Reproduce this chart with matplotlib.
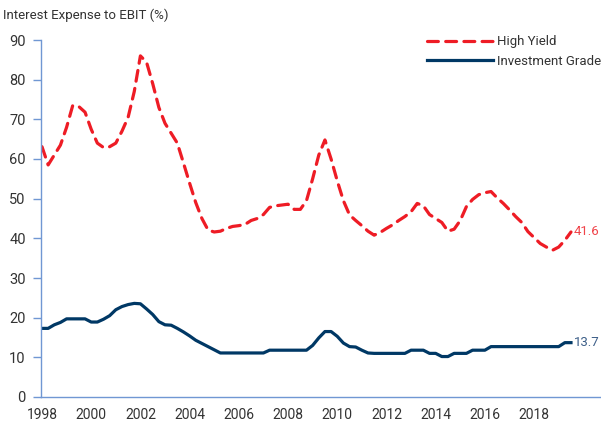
"""
Interest expense to EBIT (%), high yield vs investment grade, quarterly 1998-2019.
"""
import numpy as np
import matplotlib
matplotlib.use("Agg")
import matplotlib.pyplot as plt

plt.rcParams["font.family"] = ["Roboto", "DejaVu Sans"]

START_YEAR = 1998

HIGH_YIELD = [
    63.1, 58.5, 61.0, 63.5,   # 1998
    68.0, 73.5, 73.2, 71.8,   # 1999
    67.5, 64.0, 62.9, 63.1,   # 2000
    64.0, 67.0, 70.5, 77.0,   # 2001
    86.0, 84.4, 79.0, 73.0,   # 2002
    69.0, 66.5, 64.0, 59.0,   # 2003
    53.9, 49.0, 45.0, 42.1,   # 2004
    41.6, 41.8, 42.5, 43.0,   # 2005
    43.2, 43.5, 44.5, 45.0,   # 2006
    46.0, 47.8, 48.2, 48.4,   # 2007
    48.6, 47.3, 47.3, 49.5,   # 2008
    55.0, 61.0, 64.8, 60.0,   # 2009
    54.5, 49.5, 45.9, 44.5,   # 2010
    43.2, 41.8, 40.8, 41.5,   # 2011
    42.5, 43.4, 44.5, 45.5,   # 2012
    46.7, 48.8, 48.2, 46.0,   # 2013
    45.0, 44.0, 41.8, 42.3,   # 2014
    44.5, 48.0, 49.8, 51.0,   # 2015
    51.5, 51.8, 50.2, 48.8,   # 2016
    47.2, 45.5, 44.0, 41.7,   # 2017
    40.2, 38.7, 37.8, 37.0,   # 2018
    37.8, 39.5, 41.6,         # 2019
]

INVESTMENT_GRADE = [
    17.3, 17.3, 18.2, 18.8,   # 1998
    19.7, 19.7, 19.7, 19.7,   # 1999
    18.9, 18.9, 19.6, 20.5,   # 2000
    22.0, 22.8, 23.3, 23.6,   # 2001
    23.5, 22.2, 20.8, 19.0,   # 2002
    18.2, 18.1, 17.3, 16.4,   # 2003
    15.4, 14.3, 13.5, 12.7,   # 2004
    11.9, 11.1, 11.1, 11.1,   # 2005
    11.1, 11.1, 11.1, 11.1,   # 2006
    11.1, 11.8, 11.8, 11.8,   # 2007
    11.8, 11.8, 11.8, 11.8,   # 2008
    13.0, 14.9, 16.5, 16.5,   # 2009
    15.3, 13.6, 12.7, 12.6,   # 2010
    11.8, 11.1, 11.0, 11.0,   # 2011
    11.0, 11.0, 11.0, 11.0,   # 2012
    11.8, 11.8, 11.8, 11.0,   # 2013
    11.0, 10.2, 10.2, 11.0,   # 2014
    11.0, 11.0, 11.8, 11.8,   # 2015
    11.8, 12.7, 12.7, 12.7,   # 2016
    12.7, 12.7, 12.7, 12.7,   # 2017
    12.7, 12.7, 12.7, 12.7,   # 2018
    12.7, 13.7, 13.7,         # 2019
]

X_TICKS = list(range(1998, 2019, 2))
Y_TICKS = list(range(0, 91, 10))

RED = "#EE1C25"
NAVY = "#003865"
SPINE = "#7097D3"
TEXT = "#333333"

t = START_YEAR + np.arange(len(HIGH_YIELD)) / 4

fig = plt.figure(figsize=(6.01, 4.25), dpi=100)
ax = fig.add_axes([41 / 601, 1 - 397 / 425, 1 - 41 / 601, (397 - 40) / 425])

ax.plot(t, HIGH_YIELD, color=RED, lw=2.3, ls=(0, (3.4, 2.3)),
        dash_capstyle="round", label="High Yield")
ax.plot(t, INVESTMENT_GRADE, color=NAVY, lw=2.3, label="Investment Grade")

ax.text(t[-1] + 0.12, HIGH_YIELD[-1], f"{HIGH_YIELD[-1]:.1f}", color="#F0444A",
        fontsize=9.5, va="center", ha="left")
ax.text(t[-1] + 0.12, INVESTMENT_GRADE[-1], f"{INVESTMENT_GRADE[-1]:.1f}",
        color="#3C5E88", fontsize=9.5, va="center", ha="left")

ax.set_xlim(1997.96, 2020.72)
ax.set_ylim(0, 90)
ax.set_xticks(X_TICKS)
ax.set_yticks(Y_TICKS)
ax.tick_params(axis="x", length=0, pad=8, labelsize=10, labelcolor=TEXT)
ax.tick_params(axis="y", length=6, width=1, color=SPINE, pad=5,
               labelsize=10.5, labelcolor=TEXT)

for side in ("top", "right"):
    ax.spines[side].set_visible(False)
for side in ("left", "bottom"):
    ax.spines[side].set_color(SPINE)
    ax.spines[side].set_linewidth(1)

fig.text(3 / 601, 1 - 15 / 425, "Interest Expense to EBIT (%)", fontsize=9.5,
         color=TEXT, va="center", ha="left")

leg = ax.legend(loc="upper right", bbox_to_anchor=(1.0, 1.013), frameon=False,
                fontsize=9.5, handlelength=5.0, handletextpad=0.3,
                labelspacing=0.5, borderaxespad=0.0, borderpad=0.0)
for txt in leg.get_texts():
    txt.set_color(TEXT)

fig.savefig("out.png", dpi=100)
